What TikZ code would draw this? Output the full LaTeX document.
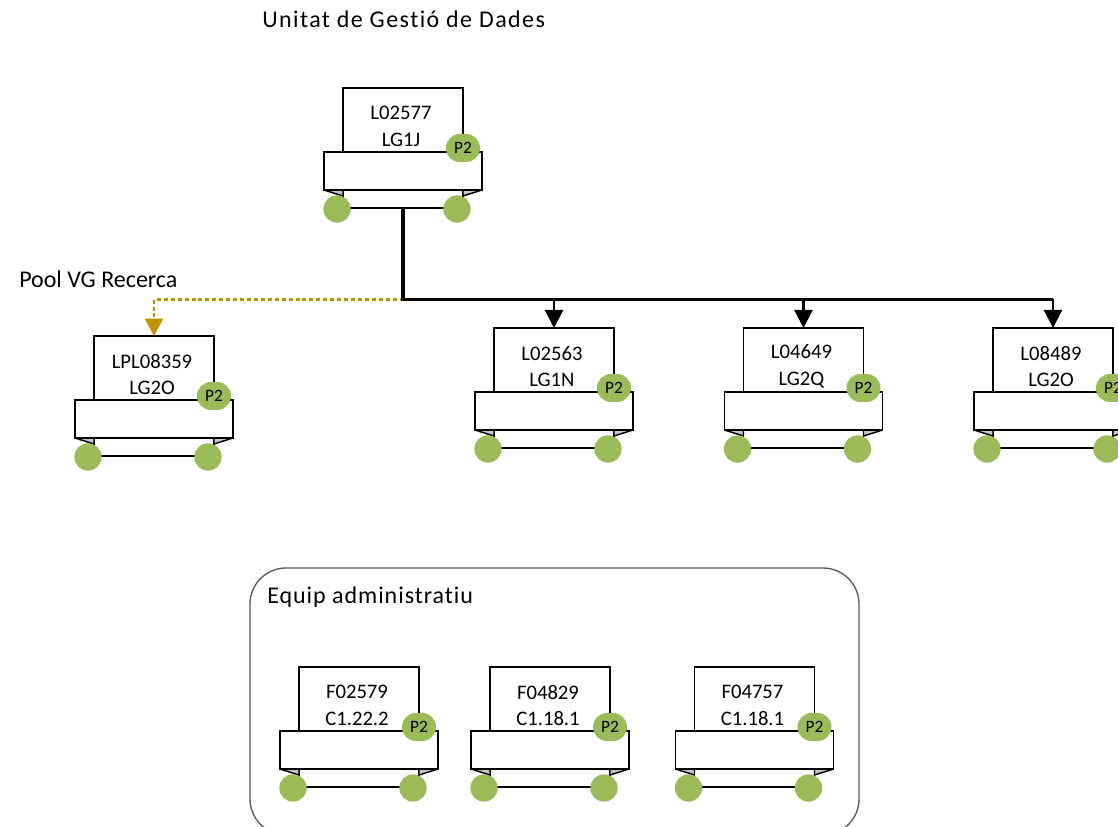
\documentclass[tikz,border=0pt]{standalone}
\usepackage{fontspec}
\setmainfont[Ligatures=NoCommon]{Carlito}
\newfontfamily\spacedfont[LetterSpace=6,Ligatures=NoCommon]{Carlito}
\newfontfamily\teamfont[LetterSpace=4,Ligatures=NoCommon]{Carlito}
\usetikzlibrary{arrows.meta}
\definecolor{leafgreen}{HTML}{9BBB59}
\definecolor{poolgold}{HTML}{BF9000}
\tikzset{
 paperbox/.style={draw,line width=1.4pt,fill=white,inner sep=0pt,outer sep=0pt,minimum width=90pt,minimum height=48pt},
 bandbox/.style={draw,line width=1.4pt,fill=white,inner sep=0pt,outer sep=0pt,minimum width=118.5pt,minimum height=28.5pt},
 basebox/.style={draw,line width=1.2pt,fill=white,inner sep=0pt,outer sep=0pt,minimum width=90pt,minimum height=13.5pt},
 foldtip/.style={fill=gray!45,draw,line width=1.1pt,line join=round},
 wheel/.style={circle,fill=leafgreen,inner sep=0pt,minimum size=20.5pt},
 levelbadge/.style={rectangle,rounded corners=10.4pt,fill=leafgreen,inner sep=0pt,minimum width=25.5pt,minimum height=21pt,font=\fontsize{13}{15}\selectfont},
 unitlabel/.style={align=center,font=\fontsize{15.5}{20}\selectfont},
 plaintext/.style={anchor=west,inner sep=0pt,font=\fontsize{18}{21}\selectfont},
 busline/.style={line width=2.4pt},
 feedline/.style={line width=1.6pt,-{Triangle[width=13.5pt,length=13.5pt]}},
 poolline/.style={line width=1.7pt,poolgold,dash pattern=on 3pt off 2.2pt,-{Triangle[width=13.5pt,length=13pt,fill=poolgold]}}
}
% one post: #1 name, #2 left of the paper, #3 top of the paper, #4 and #5 its two lines
\newcommand{\unitbox}[5]{
 \begin{scope}[shift={(#2,#3)}]
  \node[basebox] (#1-base) at (60,111) {};
  \draw[foldtip] (-19,102) -- (0,108) -- (0,102) -- cycle;
  \draw[foldtip] (139,102) -- (120,108) -- (120,102) -- cycle;
  \node[paperbox] (#1) at (60,32) {};
  \node[unitlabel] (#1-text) at (58,38.5) {#4\\#5};
  \node[bandbox] (#1-band) at (60,83) {};
  \node[wheel] (#1-left) at (-6,121) {};
  \node[wheel] (#1-right) at (114,121) {};
  \node[levelbadge] (#1-level) at (120,60) {P2};
 \end{scope}
}
\begin{document}
\begin{tikzpicture}[x=0.75pt,y=-0.75pt]
 \useasboundingbox (0,0) rectangle (1118,827);
 \clip (0,0) rectangle (1118,827);
 \node[plaintext] (title) at (262,19) {\spacedfont Unitat de Gestió de Dades};
 \node[plaintext] (poollabel) at (19,279) {Pool VG Recerca};
 % administrative team
 \draw[line width=1pt,black!65,rounded corners=27pt] (250,568) rectangle (859,835);
 \node[plaintext] (teamlabel) at (267,597) {\teamfont Equip administratiu};
 \unitbox{L02577}{343}{88}{L02577}{LG1J}
 \unitbox{LPL08359}{94}{336}{LPL08359}{LG2O}
 \unitbox{L02563}{494}{328}{L02563}{LG1N}
 \unitbox{L04649}{743.5}{328}{L04649}{LG2Q}
 \unitbox{L08489}{993}{328}{L08489}{LG2O}
 \unitbox{F02579}{299}{667}{F02579}{C1.22.2}
 \unitbox{F04829}{490}{667}{F04829}{C1.18.1}
 \unitbox{F04757}{694.5}{667}{F04757}{C1.18.1}
 % connectors
 \coordinate (bus) at (403.5,299.5);
 \draw[poolline] (bus) -| (LPL08359.north);
 \draw[busline] (L02577-base.south) |- (L08489.north |- bus);
 \foreach \unit in {L02563,L04649,L08489} {
  \draw[feedline] (\unit.north |- bus) -- (\unit.north);
 }
\end{tikzpicture}
\end{document}
